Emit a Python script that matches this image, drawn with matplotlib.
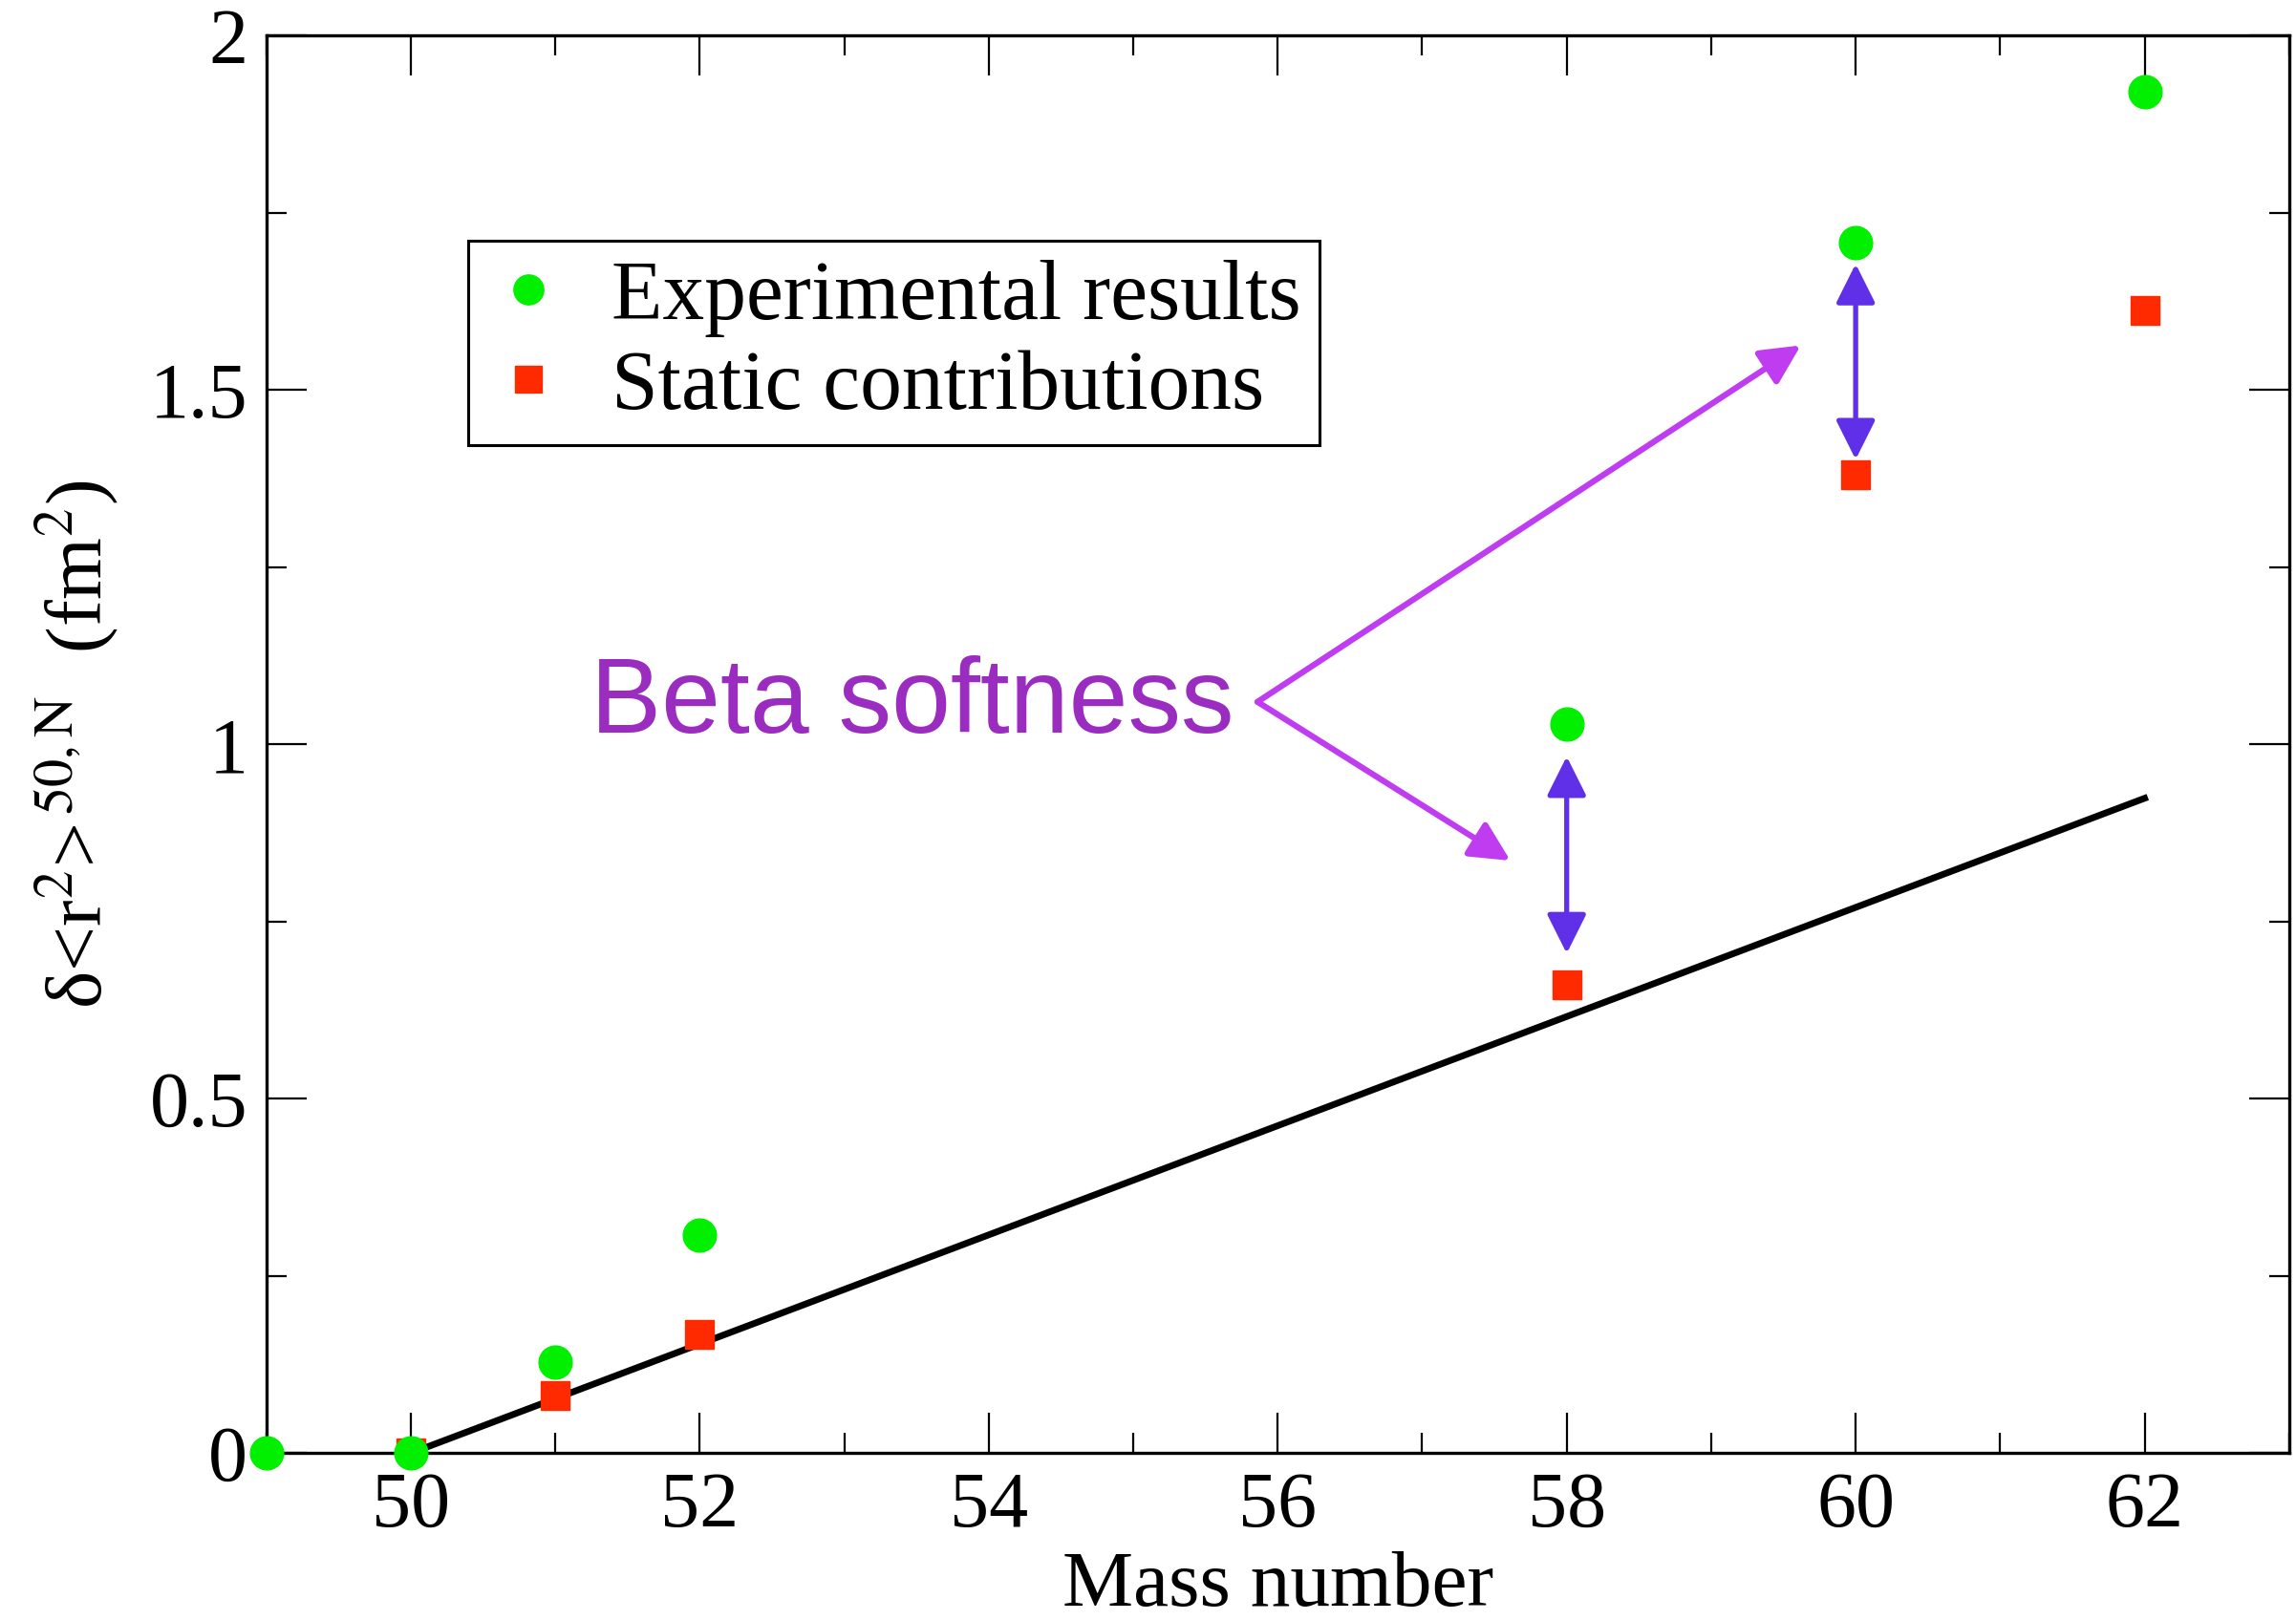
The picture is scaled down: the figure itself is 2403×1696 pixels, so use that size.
import matplotlib
matplotlib.use('Agg')
import matplotlib.pyplot as plt
from matplotlib.ticker import MultipleLocator

plt.rcParams['font.family'] = ['Liberation Serif', 'DejaVu Serif']
plt.rcParams['mathtext.fontset'] = 'stix'

# data
exp_mass = [49, 50, 51, 52, 58, 60, 62]
exp_values = [0.0, 0.0, 0.128, 0.308, 1.029, 1.708, 1.921]
static_mass = [50, 51, 52, 58, 60, 62]
static_values = [0.0, 0.081, 0.167, 0.661, 1.380, 1.612]
line_mass = [50, 62]
line_values = [0.0, 0.924]

x_ticks = [50, 52, 54, 56, 58, 60, 62]
y_ticks = [0, 0.5, 1, 1.5, 2]
y_tick_labels = ["0", "0.5", "1", "1.5", "2"]

green = "#00f000"
red = "#ff2a00"
purple = "#c03cf0"
violet = "#6030e8"

fig = plt.figure(figsize=(24.03, 16.96), dpi=100)
ax = fig.add_axes([0.116, 0.103, 0.881, 0.875])

ax.plot(line_mass, line_values, color="black", lw=5, zorder=2)
ax.plot(static_mass, static_values, ls="none", marker="s", ms=22, color=red,
        label="Static contributions", zorder=3)
ax.plot(exp_mass, exp_values, ls="none", marker="o", ms=25, color=green,
        label="Experimental results", zorder=4, clip_on=False)

ax.set_xlim(49, 63)
ax.set_ylim(0, 2)
ax.set_xticks(x_ticks)
ax.set_yticks(y_ticks)
ax.set_yticklabels(y_tick_labels)
ax.xaxis.set_minor_locator(MultipleLocator(1))
ax.yaxis.set_minor_locator(MultipleLocator(0.25))
ax.tick_params(which="both", direction="in", top=True, right=True, width=1.6,
               labelsize=59, pad=14)
ax.tick_params(which="major", length=30)
ax.tick_params(which="minor", length=15)
for spine in ax.spines.values():
    spine.set_linewidth(2.4)

ax.set_xlabel("Mass number", fontsize=60, labelpad=5)
ax.set_ylabel(r"δ<r$^{2}$>$^{\,\mathrm{50,N}}$  (fm$^{2}$)", fontsize=60, labelpad=22)

handles, labels = ax.get_legend_handles_labels()
leg = ax.legend(handles[::-1], labels[::-1], loc="upper left",
                bbox_to_anchor=(0.0997, 0.855), borderaxespad=0, fontsize=63,
                fancybox=False, framealpha=1, edgecolor="black",
                handlelength=1.0, handletextpad=0.5, borderpad=0.22,
                labelspacing=0.15, markerscale=0.9)
leg.get_frame().set_linewidth(2.2)

# annotation
ax.text(55.70, 1.017, "Beta softness", fontsize=80, color="#9b2cc0",
        family="Liberation Sans", ha="right", va="baseline")
start = (55.86, 1.06)
for end in [(59.62, 1.563), (57.61, 0.836)]:
    ax.annotate("", xy=end, xytext=start,
                arrowprops=dict(arrowstyle="-|>,head_length=0.6,head_width=0.3",
                                color=purple, lw=4.5, mutation_scale=42,
                                shrinkA=0, shrinkB=0))
for x, y0, y1 in [(58, 0.705, 0.983), (60, 1.402, 1.678)]:
    ax.annotate("", xy=(x, y1), xytext=(x, y0),
                arrowprops=dict(arrowstyle="<|-|>,head_length=0.6,head_width=0.3",
                                color=violet, lw=3.8, mutation_scale=42,
                                shrinkA=0, shrinkB=0))

fig.savefig("out.png", dpi=100)
